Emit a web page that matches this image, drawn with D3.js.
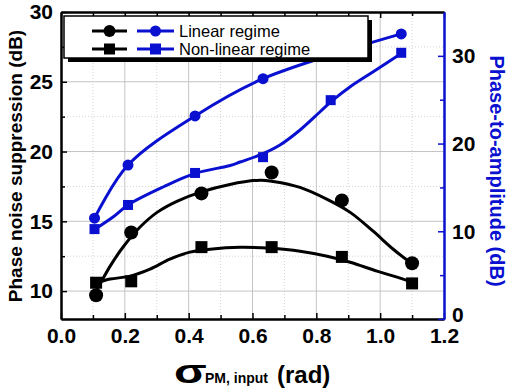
<!DOCTYPE html>
<html><head><meta charset="utf-8">
<script src="https://cdn.jsdelivr.net/npm/d3@7"></script>
<style>
body{margin:0;background:#fff;}
svg{display:block;font-family:Arial,"Liberation Sans",sans-serif;}
</style></head>
<body><svg id="c" width="512" height="390"></svg>
<script>
// ---- data ----
const xTicks = [0.0, 0.2, 0.4, 0.6, 0.8, 1.0, 1.2];
const leftTicks = [10, 15, 20, 25, 30];
const rightTicks = [0, 10, 20, 30];

// black markers: phase noise suppression (left axis)
const xBlack = [0.11, 0.22, 0.44, 0.66, 0.88, 1.10];
const linearSuppression = [9.7, 14.2, 17.0, 18.5, 16.5, 12.0];
const nonlinearSuppression = [10.6, 10.7, 13.15, 13.15, 12.45, 10.55];

// blue markers: phase-to-amplitude (right axis)
const xBlueLinear = [0.105, 0.21, 0.42, 0.633, 1.066];
const linearP2A = [11.5, 17.55, 23.15, 27.4, 32.5];
const xBlueNonlinear = [0.105, 0.21, 0.42, 0.633, 0.845, 1.066];
const nonlinearP2A = [10.25, 13.0, 16.65, 18.45, 24.95, 30.35];

// fitted curves
const fitLinearX = [0.113, 0.122, 0.154, 0.194, 0.247, 0.301, 0.363, 0.435, 0.529, 0.623, 0.665, 0.749, 0.834, 0.906, 0.978, 1.041, 1.094, 1.11];
const fitLinearY = [10.15, 10.5, 11.79, 13.14, 14.57, 15.64, 16.43, 17.07, 17.64, 17.95, 17.86, 17.43, 16.57, 15.64, 14.29, 13.0, 12.07, 11.86];
const fitNonlinearX = [0.113, 0.154, 0.216, 0.279, 0.341, 0.404, 0.467, 0.561, 0.655, 0.749, 0.834, 0.906, 0.99, 1.053, 1.116];
const fitNonlinearY = [10.6, 10.86, 11.07, 11.57, 12.29, 12.79, 13.0, 13.14, 13.07, 12.86, 12.5, 12.07, 11.43, 11.0, 10.5];
const fitP2ANonlinearX = [0.107, 0.163, 0.21, 0.32, 0.42, 0.53, 0.561, 0.623, 0.686, 0.749, 0.811, 0.849, 0.905, 0.977, 1.068];
const fitP2ANonlinearY = [10.26, 11.63, 13.0, 15.05, 16.6, 17.5, 17.9, 18.7, 19.84, 21.55, 23.6, 24.86, 26.45, 28.16, 30.33];

const legendLabels = ["Linear regime", "Non-linear regime"];

(function () {
// ---- layout ----
const L = 61, R = 444, T = 12, B = 319;
const BLUE = "#0a10d0";
const svg = d3.select("#c");
const x = d3.scaleLinear().domain([0, 1.2]).range([L, R]);
const yL = d3.scaleLinear().domain([8, 30]).range([B, T]);
const yR = d3.scaleLinear().domain([0, 35]).range([B, T]);

// grid
const g = svg.append("g");
const minorX = d3.range(1, 12, 2).map(d => d / 10);
const majorX = [0.2, 0.4, 0.6, 0.8, 1.0];
const minorY = [12.5, 17.5, 22.5, 27.5];
const majorY = [10, 15, 20, 25];
g.selectAll(".mx").data(minorX).join("line")
  .attr("x1", d => x(d)).attr("x2", d => x(d)).attr("y1", T).attr("y2", B)
  .attr("stroke", "#d4d4d4").attr("stroke-width", 1).attr("stroke-dasharray", "1,2");
g.selectAll(".my").data(minorY).join("line")
  .attr("y1", d => yL(d)).attr("y2", d => yL(d)).attr("x1", L).attr("x2", R)
  .attr("stroke", "#d4d4d4").attr("stroke-width", 1).attr("stroke-dasharray", "1,2");
g.selectAll(".gx").data(majorX).join("line")
  .attr("x1", d => x(d)).attr("x2", d => x(d)).attr("y1", T).attr("y2", B)
  .attr("stroke", "#c4c4c4").attr("stroke-width", 1);
g.selectAll(".gy").data(majorY).join("line")
  .attr("y1", d => yL(d)).attr("y2", d => yL(d)).attr("x1", L).attr("x2", R)
  .attr("stroke", "#c4c4c4").attr("stroke-width", 1);

// axes
function styleAxis(sel, color, labelColor) {
  sel.selectAll("path").attr("stroke", color).attr("stroke-width", 2);
  sel.selectAll("line").attr("stroke", color).attr("stroke-width", 1.5);
  sel.selectAll("text").attr("fill", labelColor).attr("font-size", 21).attr("font-weight", "bold")
    .attr("font-family", "Arial, 'Liberation Sans', sans-serif");
}
const fmt = d3.format(".1f");
const axB = svg.append("g").attr("transform", `translate(0,${B})`)
  .call(d3.axisBottom(x).tickValues(xTicks).tickFormat(fmt).tickSizeInner(-6).tickSizeOuter(0).tickPadding(9));
styleAxis(axB, "#000", "#000");
const axBm = svg.append("g").attr("transform", `translate(0,${B})`)
  .call(d3.axisBottom(x).tickValues(minorX).tickFormat("").tickSizeInner(-4).tickSizeOuter(0));
styleAxis(axBm, "#000", "#000");
const axT = svg.append("g").attr("transform", `translate(0,${T})`)
  .call(d3.axisTop(x).tickValues(xTicks).tickFormat("").tickSizeInner(-6).tickSizeOuter(0));
styleAxis(axT, "#000", "#000");
const axTm = svg.append("g").attr("transform", `translate(0,${T})`)
  .call(d3.axisTop(x).tickValues(minorX).tickFormat("").tickSizeInner(-4).tickSizeOuter(0));
styleAxis(axTm, "#000", "#000");
const axL = svg.append("g").attr("transform", `translate(${L},0)`)
  .call(d3.axisLeft(yL).tickValues(leftTicks).tickSizeInner(-6).tickSizeOuter(0).tickPadding(8));
styleAxis(axL, "#000", "#000");
const axLm = svg.append("g").attr("transform", `translate(${L},0)`)
  .call(d3.axisLeft(yL).tickValues(minorY).tickFormat("").tickSizeInner(-4).tickSizeOuter(0));
styleAxis(axLm, "#000", "#000");
const axR = svg.append("g").attr("transform", `translate(${R},0)`)
  .call(d3.axisRight(yR).tickValues(rightTicks).tickSizeInner(-6).tickSizeOuter(0).tickPadding(8));
styleAxis(axR, BLUE, "#000");
axR.selectAll("text").filter(d => d === 0).attr("dy", "0.1em");
const axRm = svg.append("g").attr("transform", `translate(${R},0)`)
  .call(d3.axisRight(yR).tickValues([5, 15, 25]).tickFormat("").tickSizeInner(-4).tickSizeOuter(0));
styleAxis(axRm, BLUE, "#000");

// curves
const lineL = d3.line().x(d => x(d[0])).y(d => yL(d[1])).curve(d3.curveCatmullRom);
const lineR = d3.line().x(d => x(d[0])).y(d => yR(d[1])).curve(d3.curveCatmullRom);
const zip = (a, b) => a.map((v, i) => [v, b[i]]);
svg.append("path").attr("d", lineL(zip(fitLinearX, fitLinearY)))
  .attr("fill", "none").attr("stroke", "#000").attr("stroke-width", 3);
svg.append("path").attr("d", lineL(zip(fitNonlinearX, fitNonlinearY)))
  .attr("fill", "none").attr("stroke", "#000").attr("stroke-width", 3);
svg.append("path").attr("d", lineR(zip(xBlueLinear, linearP2A)))
  .attr("fill", "none").attr("stroke", BLUE).attr("stroke-width", 3);
svg.append("path").attr("d", lineR(zip(fitP2ANonlinearX, fitP2ANonlinearY)))
  .attr("fill", "none").attr("stroke", BLUE).attr("stroke-width", 3);

// markers
svg.append("g").selectAll("circle").data(zip(xBlack, linearSuppression)).join("circle")
  .attr("cx", d => x(d[0])).attr("cy", d => yL(d[1])).attr("r", 7).attr("fill", "#000");
svg.append("g").selectAll("rect").data(zip(xBlack, nonlinearSuppression)).join("rect")
  .attr("x", d => x(d[0]) - 6).attr("y", d => yL(d[1]) - 6).attr("width", 12).attr("height", 12).attr("fill", "#000");
svg.append("g").selectAll("circle").data(zip(xBlueLinear, linearP2A)).join("circle")
  .attr("cx", d => x(d[0])).attr("cy", d => yR(d[1])).attr("r", 5.5).attr("fill", BLUE);
svg.append("g").selectAll("rect").data(zip(xBlueNonlinear, nonlinearP2A)).join("rect")
  .attr("x", d => x(d[0]) - 5).attr("y", d => yR(d[1]) - 5).attr("width", 10).attr("height", 10).attr("fill", BLUE);

// legend
const lg = svg.append("g");
lg.append("rect").attr("x", 68).attr("y", 20).attr("width", 304).attr("height", 42).attr("fill", "#000");
lg.append("rect").attr("x", 64).attr("y", 16).attr("width", 304).attr("height", 42)
  .attr("fill", "#fff").attr("stroke", "#000").attr("stroke-width", 1.5);
legendLabels.forEach((lab, i) => {
  const yy = 31 + i * 18;
  [[92, 127, "#000"], [137, 174, BLUE]].forEach(([a, b, c]) => {
    lg.append("line").attr("x1", a).attr("x2", b).attr("y1", yy).attr("y2", yy)
      .attr("stroke", c).attr("stroke-width", 3);
    const m = (a + b) / 2;
    if (i === 0) lg.append("circle").attr("cx", m).attr("cy", yy).attr("r", c === "#000" ? 6 : 5.5).attr("fill", c);
    else lg.append("rect").attr("x", m - 5.5).attr("y", yy - 5.5).attr("width", 11).attr("height", 11).attr("fill", c);
  });
  lg.append("text").attr("x", 179).attr("y", yy + 6).attr("font-size", 16.5).attr("fill", "#000").text(lab);
});

// axis titles
svg.append("text").attr("transform", "translate(22,166) rotate(-90)")
  .attr("text-anchor", "middle").attr("font-size", 19).attr("font-weight", "bold").attr("fill", "#000")
  .text("Phase noise suppression (dB)");
svg.append("text").attr("transform", "translate(490,171) rotate(90)")
  .attr("text-anchor", "middle").attr("font-size", 20).attr("font-weight", "bold").attr("fill", BLUE)
  .text("Phase-to-amplitude (dB)");
svg.append("text").attr("transform", "translate(174,383) scale(1.45,1)")
  .attr("font-size", 33).attr("font-weight", "bold").attr("fill", "#000").text("σ");
svg.append("text").attr("x", 205).attr("y", 383)
  .attr("font-size", 14).attr("font-weight", "bold").attr("fill", "#000").text("PM, input");
svg.append("text").attr("x", 277).attr("y", 383)
  .attr("font-size", 24).attr("font-weight", "bold").attr("fill", "#000").text("(rad)");
})();
</script></body></html>
